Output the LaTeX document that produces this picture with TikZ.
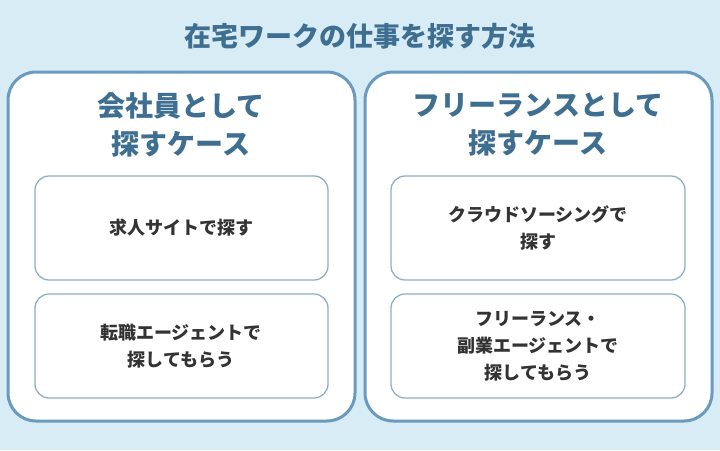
\documentclass[tikz,border=0pt]{standalone}
\usepackage{fontspec}
\setmainfont{Noto Sans CJK JP}
\definecolor{bg}{HTML}{D8ECF6}
\definecolor{frame}{HTML}{6A9BBE}
\definecolor{titlec}{HTML}{3F6F90}
\definecolor{inner}{HTML}{8FAFC6}
\definecolor{txt}{HTML}{333333}
\begin{document}
\begin{tikzpicture}[x=1pt,y=-1pt,
  bigbox/.style={draw=frame,line width=3pt,fill=white,rounded corners=28pt},
  smallbox/.style={draw=inner,line width=1.3pt,fill=white,rounded corners=14pt},
  head/.style={font=\fontsize{28}{38}\selectfont\bfseries,text=titlec,align=center},
  item/.style={font=\fontsize{18}{27}\selectfont\bfseries,text=txt,align=center}]
\fill[bg] (0,0) rectangle (720,450);
\useasboundingbox (0,0) rectangle (720,450);
\node[font=\fontsize{27}{32}\selectfont\bfseries,text=titlec] (title) at (360,36) {在宅ワークの仕事を探す方法};
\draw[bigbox] (8,72) rectangle (355,421);
\draw[bigbox] (365,72) rectangle (712,421);
\node[head] (lh) at (181,125) {会社員として\\探すケース};
\node[head] (rh) at (538,125) {フリーランスとして\\探すケース};
\draw[smallbox] (35,176) rectangle (328,280);
\draw[smallbox] (35,294) rectangle (328,398);
\draw[smallbox] (391,176) rectangle (685,280);
\draw[smallbox] (391,294) rectangle (685,398);
\node[item] (a) at (181,228) {求人サイトで探す};
\node[item] (b) at (181,346) {転職エージェントで\\探してもらう};
\node[item] (c) at (538,228) {クラウドソーシングで\\探す};
\node[item] (d) at (538,346) {フリーランス・\\副業エージェントで\\探してもらう};
\end{tikzpicture}
\end{document}
